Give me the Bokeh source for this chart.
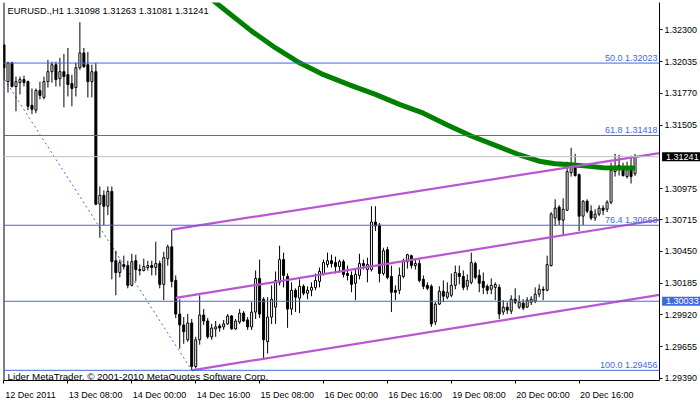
from bokeh.plotting import figure
from bokeh.models import Range1d, FixedTicker, PrintfTickFormatter, Label, Span, LinearAxis
from bokeh.layouts import row
from bokeh.core.properties import value
from bokeh.embed import file_html
from bokeh.resources import INLINE

# ---- hourly EURUSD candles (bar index 0 = 12 Dec 2011 16:00) ----
opens = [1.32174, 1.31868, 1.32025, 1.31827, 1.31860, 1.31885, 1.31868, 1.31670, 1.31629, 1.31794,
         1.31736, 1.31868, 1.31951, 1.32009, 1.31893, 1.31951, 1.31926, 1.31852, 1.31819, 1.31984,
         1.32108, 1.32009, 1.31868, 1.31951, 1.30844, 1.30918, 1.30827, 1.30951, 1.30372, 1.30273,
         1.30340, 1.30331, 1.30166, 1.30372, 1.30298, 1.30290, 1.30315, 1.30331, 1.30315, 1.30348,
         1.30174, 1.30389, 1.30488, 1.30207, 1.29926, 1.29835, 1.29711, 1.29852, 1.29488, 1.29711,
         1.29918, 1.29868, 1.29736, 1.29802, 1.29827, 1.29819, 1.29844, 1.29910, 1.29802, 1.29860,
         1.29934, 1.29877, 1.29819, 1.29943, 1.30224, 1.30050, 1.29695, 1.29901, 1.29984, 1.30191,
         1.30381, 1.30240, 1.29968, 1.30125, 1.30059, 1.30158, 1.30100, 1.30125, 1.30149, 1.30199,
         1.30265, 1.30340, 1.30372, 1.30356, 1.30323, 1.30364, 1.30265, 1.30249, 1.30183, 1.30249,
         1.30348, 1.30298, 1.30298, 1.30695, 1.30670, 1.30265, 1.30464, 1.30240, 1.30125, 1.30125,
         1.30240, 1.30364, 1.30414, 1.30331, 1.30348, 1.30216, 1.30166, 1.30158, 1.29860, 1.30009,
         1.30116, 1.30067, 1.30083, 1.30166, 1.30265, 1.30240, 1.30158, 1.30191, 1.30348, 1.30249,
         1.30199, 1.30158, 1.30133, 1.30149, 1.30149, 1.29943, 1.29984, 1.29951, 1.30050, 1.29984,
         1.30017, 1.29984, 1.30025, 1.30034, 1.30092, 1.30133, 1.30125, 1.30331, 1.30728, 1.30819,
         1.30711, 1.30794, 1.31108, 1.31158, 1.31091, 1.30744, 1.30869, 1.30786, 1.30728, 1.30761,
         1.30811, 1.30802, 1.30860, 1.31116, 1.31166, 1.31158, 1.31075, 1.31149, 1.31098]
highs = [1.32182, 1.32034, 1.32034, 1.31910, 1.31910, 1.31918, 1.31877, 1.31810, 1.31810, 1.31868,
         1.31910, 1.32050, 1.32034, 1.32034, 1.32067, 1.32100, 1.32149, 1.31926, 1.32025, 1.32364,
         1.32149, 1.32116, 1.32009, 1.32025, 1.30992, 1.30959, 1.30992, 1.30992, 1.30455, 1.30381,
         1.30414, 1.30372, 1.30430, 1.30422, 1.30340, 1.30389, 1.30372, 1.30372, 1.30530, 1.30372,
         1.30447, 1.30505, 1.30629, 1.30249, 1.30050, 1.29901, 1.29926, 1.29885, 1.29736, 1.30083,
         1.29968, 1.29893, 1.29844, 1.29868, 1.29844, 1.29877, 1.29926, 1.29918, 1.29885, 1.29968,
         1.29951, 1.29901, 1.30025, 1.30290, 1.30381, 1.30067, 1.30067, 1.30166, 1.30282, 1.30497,
         1.30439, 1.30265, 1.30191, 1.30141, 1.30216, 1.30174, 1.30158, 1.30191, 1.30265, 1.30315,
         1.30381, 1.30439, 1.30422, 1.30406, 1.30381, 1.30381, 1.30331, 1.30282, 1.30306, 1.30430,
         1.30381, 1.30397, 1.30827, 1.30827, 1.30687, 1.30480, 1.30488, 1.30331, 1.30166, 1.30315,
         1.30389, 1.30430, 1.30422, 1.30381, 1.30381, 1.30249, 1.30191, 1.30174, 1.30025, 1.30158,
         1.30207, 1.30191, 1.30265, 1.30331, 1.30331, 1.30290, 1.30257, 1.30439, 1.30364, 1.30298,
         1.30273, 1.30174, 1.30224, 1.30191, 1.30174, 1.30042, 1.30025, 1.30083, 1.30141, 1.30083,
         1.30050, 1.30067, 1.30075, 1.30149, 1.30174, 1.30158, 1.30414, 1.30778, 1.30885, 1.30835,
         1.30893, 1.31199, 1.31315, 1.31265, 1.31100, 1.30877, 1.30885, 1.30835, 1.30802, 1.30835,
         1.30835, 1.30877, 1.31191, 1.31265, 1.31257, 1.31191, 1.31199, 1.31249, 1.31263]
lows = [1.31885, 1.31777, 1.31819, 1.31620, 1.31761, 1.31827, 1.31629, 1.31596, 1.31604, 1.31720,
        1.31720, 1.31819, 1.31860, 1.31827, 1.31827, 1.31653, 1.31744, 1.31662, 1.31744, 1.31967,
        1.31984, 1.31736, 1.31736, 1.30835, 1.30563, 1.30670, 1.30753, 1.30216, 1.30083, 1.30232,
        1.30298, 1.30141, 1.30158, 1.30199, 1.30249, 1.30282, 1.30290, 1.30249, 1.30249, 1.30141,
        1.30042, 1.30331, 1.30149, 1.29893, 1.29637, 1.29678, 1.29695, 1.29456, 1.29472, 1.29670,
        1.29835, 1.29720, 1.29711, 1.29736, 1.29778, 1.29794, 1.29835, 1.29794, 1.29794, 1.29844,
        1.29860, 1.29794, 1.29794, 1.29885, 1.29893, 1.29546, 1.29596, 1.29844, 1.29844, 1.30166,
        1.30149, 1.29811, 1.29918, 1.29943, 1.29934, 1.30083, 1.30050, 1.30075, 1.30125, 1.30149,
        1.30249, 1.30315, 1.30315, 1.30265, 1.30273, 1.30232, 1.30207, 1.30108, 1.30042, 1.30216,
        1.30298, 1.30191, 1.30282, 1.30620, 1.30191, 1.30249, 1.30216, 1.29943, 1.30042, 1.30092,
        1.30224, 1.30306, 1.30306, 1.30298, 1.30191, 1.30133, 1.30125, 1.29819, 1.29835, 1.30001,
        1.30025, 1.30050, 1.30067, 1.30133, 1.30174, 1.30125, 1.30125, 1.30174, 1.30216, 1.30108,
        1.30092, 1.30092, 1.30092, 1.30042, 1.29885, 1.29918, 1.29926, 1.29926, 1.30009, 1.29968,
        1.29959, 1.29976, 1.30001, 1.30017, 1.30067, 1.30042, 1.30116, 1.30323, 1.30662, 1.30670,
        1.30587, 1.30786, 1.31075, 1.31075, 1.30620, 1.30670, 1.30769, 1.30711, 1.30703, 1.30744,
        1.30753, 1.30778, 1.30844, 1.31075, 1.31083, 1.31075, 1.31058, 1.31017, 1.31081]
closes = [1.31984, 1.32025, 1.31827, 1.31868, 1.31885, 1.31860, 1.31662, 1.31637, 1.31794, 1.31753,
          1.31868, 1.31951, 1.32009, 1.31885, 1.31951, 1.31910, 1.31844, 1.31810, 1.31984, 1.32108,
          1.31992, 1.31868, 1.31951, 1.30844, 1.30918, 1.30827, 1.30951, 1.30364, 1.30273, 1.30356,
          1.30323, 1.30166, 1.30364, 1.30298, 1.30290, 1.30323, 1.30331, 1.30315, 1.30348, 1.30174,
          1.30397, 1.30488, 1.30199, 1.29926, 1.29835, 1.29778, 1.29852, 1.29488, 1.29711, 1.29918,
          1.29868, 1.29736, 1.29810, 1.29819, 1.29810, 1.29844, 1.29910, 1.29802, 1.29868, 1.29934,
          1.29868, 1.29819, 1.29943, 1.30224, 1.29926, 1.29711, 1.29901, 1.30050, 1.30207, 1.30381,
          1.30249, 1.29968, 1.30125, 1.30067, 1.30158, 1.30100, 1.30125, 1.30149, 1.30207, 1.30282,
          1.30356, 1.30372, 1.30348, 1.30323, 1.30364, 1.30257, 1.30249, 1.30174, 1.30257, 1.30348,
          1.30331, 1.30340, 1.30695, 1.30662, 1.30265, 1.30455, 1.30232, 1.30108, 1.30108, 1.30249,
          1.30372, 1.30422, 1.30331, 1.30348, 1.30207, 1.30158, 1.30141, 1.29844, 1.30009, 1.30116,
          1.30075, 1.30108, 1.30166, 1.30273, 1.30240, 1.30149, 1.30207, 1.30356, 1.30232, 1.30183,
          1.30149, 1.30125, 1.30166, 1.30174, 1.29926, 1.29984, 1.29959, 1.30050, 1.30025, 1.30025,
          1.29976, 1.30042, 1.30050, 1.30092, 1.30133, 1.30125, 1.30340, 1.30761, 1.30811, 1.30711,
          1.30802, 1.31116, 1.31158, 1.31083, 1.30744, 1.30869, 1.30786, 1.30728, 1.30761, 1.30811,
          1.30794, 1.30860, 1.31125, 1.31158, 1.31141, 1.31083, 1.31149, 1.31075, 1.31241]

# ---- moving average (green), read at selected bars ----
ma_bars = [49, 53, 57, 62, 68, 74, 80, 87, 93, 99, 105, 111, 117, 124, 129, 134, 138, 142, 146, 150, 154, 158]
ma_vals = [1.32629, 1.32529, 1.32422, 1.32290, 1.32149, 1.32025, 1.31926, 1.31835, 1.31761, 1.31678,
           1.31604, 1.31505, 1.31414, 1.31323, 1.31257, 1.31203, 1.31182, 1.31174, 1.31162, 1.31149,
           1.31147, 1.31147]

# ---- Fibonacci retracement ----
fib_levels = [50.0, 61.8, 76.4, 100.0]
fib_prices = [1.32023, 1.31418, 1.30668, 1.29456]
fib_anchor_bars = [-52, 47]
fib_anchor_prices = [1.34590, 1.29456]

# ---- other objects ----
hline_price = 1.30033
bid_price = 1.31241
channel_x0 = [42, 43, 47]
channel_y0 = [1.30631, 1.30061, 1.29456]
channel_x1 = [164.125, 164.125, 164.125]
channel_y1 = [1.31271, 1.30714, 1.30086]

# ---- axes ----
y_ticks = [1.29390, 1.29655, 1.29920, 1.30185, 1.30450, 1.30715, 1.30975,
           1.31505, 1.31770, 1.32035, 1.32300]
x_tick_bars = [0, 16, 32, 48, 64, 80, 96, 112, 128, 144]
x_tick_labels = ["12 Dec 2011", "13 Dec 08:00", "14 Dec 00:00", "14 Dec 16:00", "15 Dec 08:00",
                 "16 Dec 00:00", "16 Dec 16:00", "19 Dec 08:00", "20 Dec 00:00", "20 Dec 16:00"]
title_text = "EURUSD.,H1  1.31098 1.31263 1.31081 1.31241"
copyright_text = "Lider MetaTrader, \u00a9 2001-2010 MetaQuotes Software Corp."

X_START, X_END = -0.125, 164.125
Y_START, Y_END = 1.29371, 1.32529

BLUE = "#4169E1"
PURPLE = "#BA55D3"
GREEN = "#008000"
SILVER = "#C0C0C0"
FONT = "Liberation Sans"
FS_PX = 9
FS = f"{FS_PX}px"

W, H = 700, 402
B_LEFT, B_RIGHT, B_TOP, B_BOTTOM = 3, 40, 2, 18
SIDE_W = B_RIGHT

p = figure(width=W, height=H, output_backend="svg", toolbar_location=None,
           x_range=Range1d(X_START, X_END), y_range=Range1d(Y_START, Y_END),
           y_axis_location="right", min_border_left=B_LEFT, min_border_top=B_TOP,
           min_border_right=B_RIGHT, min_border_bottom=B_BOTTOM)
p.grid.visible = False
p.background_fill_color = "white"
p.border_fill_color = "white"
p.outline_line_color = None

# y axis (price scale)
ya = p.yaxis[0]
ya.ticker = FixedTicker(ticks=y_ticks)
ya.formatter = PrintfTickFormatter(format="%.5f")
ya.major_tick_out = 3
ya.major_tick_in = 0
ya.minor_tick_line_color = None
ya.axis_line_color = "black"
ya.major_label_standoff = 2
ya.major_label_text_font = FONT
ya.major_label_text_font_size = FS
ya.major_label_text_color = "black"

# x axis A: tick marks only
xa = p.xaxis[0]
xa.ticker = FixedTicker(ticks=x_tick_bars)
xa.major_label_overrides = {b: "" for b in x_tick_bars}
xa.major_label_text_font_size = "1px"
xa.major_label_standoff = 0
xa.major_tick_out = 3
xa.major_tick_in = 0
xa.minor_tick_line_color = None
xa.axis_line_color = "black"

# x axis B: time labels, left aligned at their tick (centre shifted by half the text width)
CHAR_EM = {" ": 0.278, ":": 0.278, "D": 0.722, "e": 0.556, "c": 0.5}
px_per_bar = (W - B_LEFT - B_RIGHT) / (X_END - X_START)
def text_width_px(s):
    return sum(CHAR_EM.get(ch, 0.556) for ch in s) * FS_PX
label_pos = [round(b + (text_width_px(t) / 2 + 1) / px_per_bar, 3)
             for b, t in zip(x_tick_bars, x_tick_labels)]
xb = LinearAxis(ticker=FixedTicker(ticks=label_pos),
                major_label_overrides={pos: t for pos, t in zip(label_pos, x_tick_labels)},
                axis_line_color=None, major_tick_line_color=None, minor_tick_line_color=None,
                major_label_standoff=0, major_label_text_font=FONT,
                major_label_text_font_size=FS, major_label_text_color="black")
p.add_layout(xb, "below")

# left border of the chart window
p.add_layout(Span(location=X_START, dimension="height", line_color="black", line_width=2))

# horizontal lines
for fp in fib_prices:
    p.add_layout(Span(location=fp, dimension="width", line_color=BLUE, line_width=1))
p.add_layout(Span(location=hline_price, dimension="width", line_color=BLUE, line_width=1))
p.add_layout(Span(location=bid_price, dimension="width", line_color=SILVER, line_width=1))

# fibo trend line (dotted)
p.line(fib_anchor_bars, fib_anchor_prices, line_color=BLUE, line_width=1, line_dash="2 3")

# candles
idx = list(range(len(opens)))
p.segment(x0=idx, y0=lows, x1=idx, y1=highs, line_color="black", line_width=1)
up = [i for i in idx if closes[i] >= opens[i]]
dn = [i for i in idx if closes[i] < opens[i]]
p.vbar(x=up, width=0.5, top=[closes[i] for i in up], bottom=[opens[i] for i in up],
       fill_color="white", line_color="black", line_width=1)
p.vbar(x=dn, width=0.5, top=[opens[i] for i in dn], bottom=[closes[i] for i in dn],
       fill_color="black", line_color="black", line_width=1)

# moving average
p.line(ma_bars, ma_vals, line_color=GREEN, line_width=5, line_join="round")

# channel lines
p.segment(x0=channel_x0, y0=channel_y0, x1=channel_x1, y1=channel_y1,
          line_color=PURPLE, line_width=2.2)

# fibo labels
for lv, fp in zip(fib_levels, fib_prices):
    p.add_layout(Label(x=X_END, y=fp, x_offset=-2, y_offset=0, text=f"{lv:.1f} {fp:.5f}",
                       text_align="right", text_baseline="bottom", text_color=BLUE,
                       text_font=FONT, text_font_size=FS))

# title and copyright
p.add_layout(Label(x=X_START, y=Y_END, x_offset=4, y_offset=-3, text=title_text,
                   text_align="left", text_baseline="top", text_color="black",
                   text_font=FONT, text_font_size="9.3px"))
p.add_layout(Label(x=X_START, y=Y_START, x_offset=4, y_offset=4, text=copyright_text,
                   text_align="left", text_baseline="alphabetic", text_color="black",
                   text_font=FONT, text_font_size="9.8px"))

# price tags on the price scale (bid and horizontal line), drawn in an overlay panel
side = figure(width=SIDE_W, height=H, output_backend="svg", toolbar_location=None,
              x_range=Range1d(0, 1), y_range=p.y_range,
              x_axis_location=None, y_axis_location=None,
              min_border_left=0, min_border_right=0,
              min_border_top=B_TOP, min_border_bottom=B_BOTTOM,
              background_fill_color=None, border_fill_color=None,
              outline_line_color=None, styles={"margin-left": f"-{SIDE_W}px"})
side.grid.visible = False
tag_prices = [bid_price, hline_price]
tag_fill = ["black", BLUE]
side.rect(x=[0.52, 0.52], y=tag_prices, width=0.96, height=[9, 9], height_units="screen",
          fill_color=tag_fill, line_color=None)
side.text(x=[0.14, 0.14], y=tag_prices, text=[f"{v:.5f}" for v in tag_prices],
          text_color="white", text_baseline="middle", text_align="left",
          text_font=value(FONT), text_font_size=value(FS))

layout = row(p, side)
open("out.html", "w").write(file_html(layout, INLINE))
